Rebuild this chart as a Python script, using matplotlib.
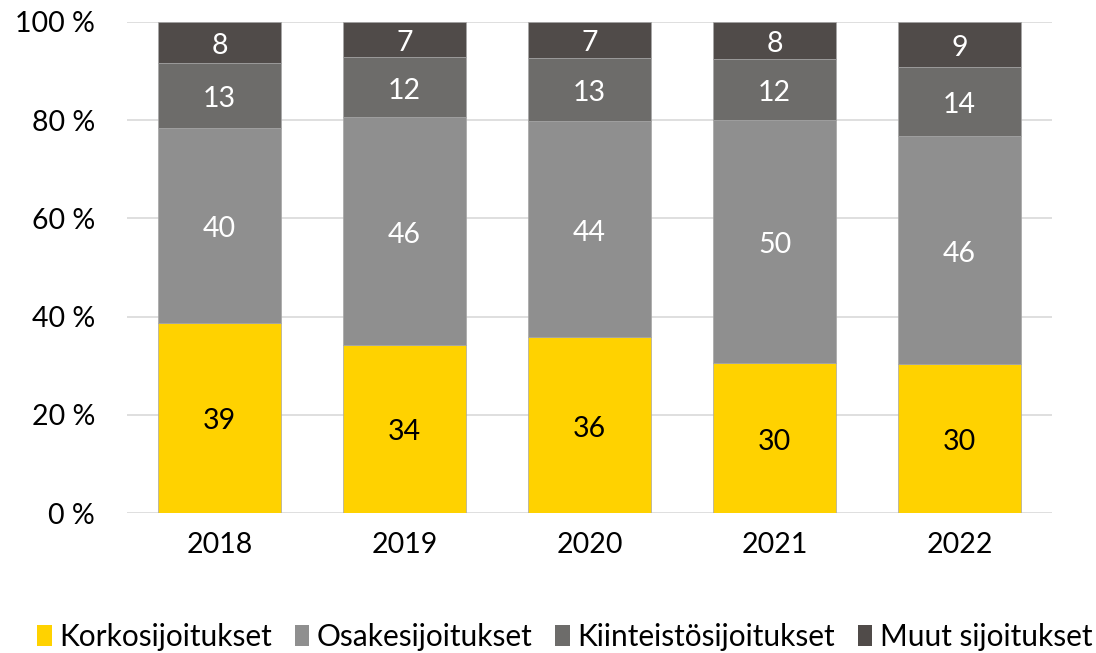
import matplotlib
matplotlib.use("Agg")
import matplotlib.pyplot as plt
import numpy as np

plt.rcParams['font.family'] = ['Lato', 'DejaVu Sans']

years = ['2018', '2019', '2020', '2021', '2022']
series_names = ['Korkosijoitukset', 'Osakesijoitukset', 'Kiinteistösijoitukset', 'Muut sijoitukset']
korko = [38.7, 34.2, 35.8, 30.5, 30.3]
osake = [39.7, 46.4, 44.0, 49.5, 46.4]
kiinteisto = [13.2, 12.2, 12.9, 12.4, 14.1]
muut = [8.4, 7.1, 7.3, 7.5, 9.2]
labels_korko = [39, 34, 36, 30, 30]
labels_osake = [40, 46, 44, 50, 46]
labels_kiint = [13, 12, 13, 12, 14]
labels_muut = [8, 7, 7, 8, 9]

colors = ['#FFD200', '#8F8F8F', '#6D6C6A', '#504B49']
text_colors = ['black', 'white', 'white', 'white']
yticks = [0, 20, 40, 60, 80, 100]

fig = plt.figure(figsize=(10.96, 6.53), dpi=100)
ax = fig.add_axes([127/1096, 140/653, 925/1096, 491/653])

x = np.arange(len(years))
bottom = np.zeros(len(years))
data = [korko, osake, kiinteisto, muut]
labs = [labels_korko, labels_osake, labels_kiint, labels_muut]
handles = []
for vals, lab, c, tc, name in zip(data, labs, colors, text_colors, series_names):
    v = np.array(vals)
    bars = ax.bar(x, v, bottom=bottom, width=0.665, color=c, edgecolor='#A6A6A6',
                  linewidth=0.5, label=name, zorder=3)
    handles.append(bars)
    for xi, b, vi, l in zip(x, bottom, v, lab):
        ax.text(xi, b + vi / 2 - 0.7, str(l), ha='center', va='center', color=tc,
                fontsize=20.5, zorder=4)
    bottom = bottom + v

ax.set_xlim(-0.5, len(years) - 0.5)
ax.set_ylim(0, 100)
ax.set_yticks(yticks)
ax.set_yticklabels([f'{t} %' for t in yticks], fontsize=20.5)
ax.set_xticks(x)
ax.set_xticklabels(years, fontsize=20.5)
ax.tick_params(axis='both', length=0)
ax.tick_params(axis='y', pad=23)
ax.tick_params(axis='x', pad=14)
ax.yaxis.grid(True, color='#D9D9D9', linewidth=1.2, zorder=0)
ax.set_axisbelow(True)
for s in ax.spines.values():
    s.set_visible(False)

leg = fig.legend(handles=handles, labels=series_names, loc='center left',
                 bbox_to_anchor=(37/1096, (653 - 637) / 653), ncol=4,
                 frameon=False, fontsize=21.5, handlelength=0.5, handleheight=0.7,
                 handletextpad=0.25, columnspacing=0.75, borderaxespad=0, borderpad=0)
for h in leg.legend_handles:
    h.set_edgecolor('none')

fig.savefig('out.png', dpi=100)
